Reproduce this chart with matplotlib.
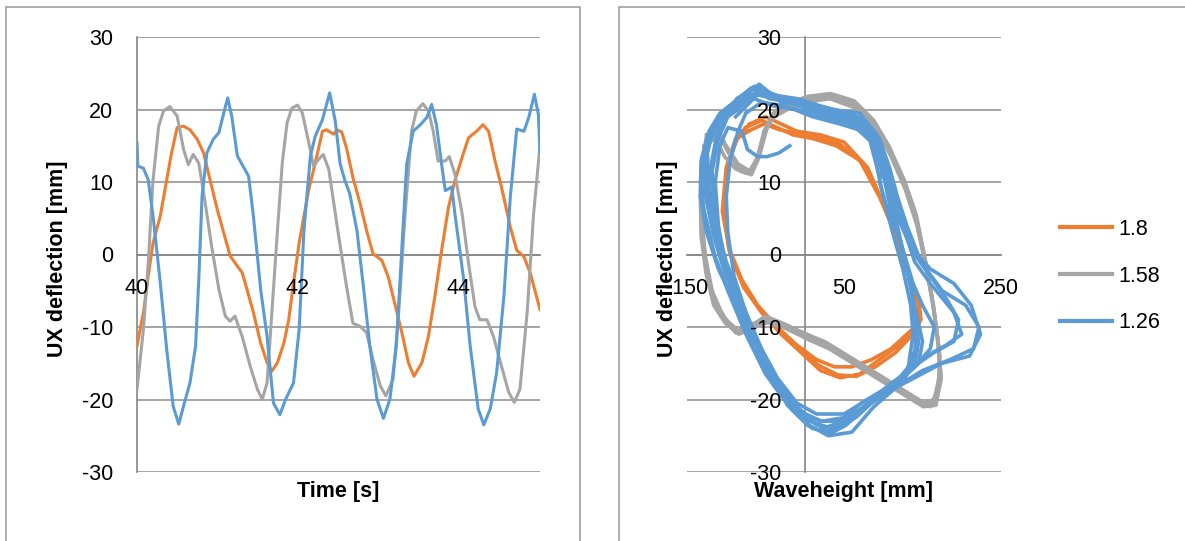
import matplotlib.pyplot as plt
from matplotlib.patches import Rectangle

plt.rcParams['font.family'] = ['Liberation Sans', 'DejaVu Sans']
plt.rcParams['axes.unicode_minus'] = False

# --- left: UX deflection time series ---
t_18 = [40.00, 40.08, 40.14, 40.20, 40.29, 40.37, 40.43, 40.50, 40.58, 40.66, 40.75, 40.83, 40.91,
        41.00, 41.08, 41.16, 41.25, 41.31, 41.37, 41.45, 41.54, 41.62, 41.68, 41.75, 41.83, 41.89,
        41.95, 42.02, 42.08, 42.14, 42.22, 42.31, 42.36, 42.45, 42.49, 42.55, 42.61, 42.69, 42.78,
        42.86, 42.94, 43.05, 43.13, 43.21, 43.30, 43.38, 43.45, 43.55, 43.63, 43.71, 43.80, 43.88,
        43.96, 44.05, 44.13, 44.23, 44.31, 44.38, 44.46, 44.54, 44.65, 44.73, 44.82, 44.90, 45.02]
ux_18 = [-12.6, -8.0, -3.0, 1.6, 5.3, 10.3, 14.0, 17.5, 17.7, 17.2, 15.9, 14.0, 10.3,
         6.2, 3.0, -0.2, -1.6, -2.5, -4.8, -8.0, -12.2, -14.9, -16.1, -14.9, -12.2, -9.0,
         -3.9, 1.6, 5.3, 9.0, 12.6, 17.0, 17.2, 16.6, 17.2, 16.9, 14.7, 10.6, 7.0,
         3.3, 0.1, -0.8, -3.1, -6.7, -10.8, -14.9, -16.8, -14.9, -11.3, -5.8, 1.0, 6.5,
         10.2, 13.4, 16.1, 17.0, 17.9, 17.0, 12.9, 9.3, 3.8, 0.6, -0.3, -2.6, -7.6]

t_158 = [40.00, 40.08, 40.14, 40.20, 40.27, 40.33, 40.41, 40.50, 40.58, 40.64, 40.70, 40.77, 40.85,
         40.93, 41.02, 41.10, 41.16, 41.22, 41.31, 41.41, 41.50, 41.56, 41.62, 41.68, 41.75, 41.81,
         41.87, 41.93, 42.00, 42.06, 42.14, 42.20, 42.26, 42.32, 42.39, 42.50, 42.61, 42.69, 42.78,
         42.86, 42.94, 43.03, 43.10, 43.19, 43.26, 43.34, 43.42, 43.48, 43.56, 43.63, 43.69, 43.75,
         43.84, 43.89, 43.96, 44.05, 44.13, 44.21, 44.27, 44.36, 44.44, 44.54, 44.63, 44.70, 44.77,
         44.86, 44.94, 45.02]
ux_158 = [-18.6, -10.3, -1.1, 10.3, 17.7, 19.8, 20.4, 19.1, 14.5, 12.4, 13.8, 12.6, 7.1,
          1.1, -4.8, -8.5, -9.2, -8.5, -11.3, -15.4, -18.6, -20.0, -17.7, -8.0, 3.4, 12.7,
          18.2, 20.2, 20.6, 19.5, 15.4, 12.2, 13.1, 13.8, 11.7, 3.4, -4.4, -9.5, -9.9,
          -10.8, -14.5, -18.1, -19.5, -17.2, -8.0, 5.6, 17.0, 19.8, 20.8, 19.8, 17.0, 12.9,
          12.9, 13.5, 11.1, 5.6, -1.2, -7.2, -9.0, -9.0, -11.3, -15.4, -19.0, -20.4, -18.6,
          -8.0, 5.6, 15.0]

t_126 = [40.00, 40.01, 40.08, 40.14, 40.20, 40.29, 40.37, 40.45, 40.52, 40.58, 40.66, 40.73, 40.77,
         40.81, 40.87, 40.95, 41.02, 41.08, 41.13, 41.18, 41.25, 41.33, 41.39, 41.45, 41.54, 41.62,
         41.70, 41.78, 41.85, 41.95, 42.02, 42.08, 42.16, 42.22, 42.31, 42.40, 42.47, 42.53, 42.59,
         42.65, 42.74, 42.82, 42.90, 42.99, 43.07, 43.15, 43.23, 43.30, 43.36, 43.44, 43.53, 43.61,
         43.67, 43.73, 43.80, 43.84, 43.92, 43.96, 44.07, 44.15, 44.25, 44.32, 44.40, 44.48, 44.57,
         44.65, 44.73, 44.82, 44.88, 44.95, 45.00, 45.02]
ux_126 = [15.4, 12.2, 11.9, 10.3, 5.3, -3.9, -13.1, -20.9, -23.4, -20.9, -17.7, -12.6, -3.4,
          8.0, 14.0, 15.9, 16.8, 19.5, 21.6, 19.1, 13.6, 12.0, 10.8, 5.3, -4.8, -11.3,
          -20.5, -22.1, -20.0, -17.7, -10.3, 3.4, 13.6, 16.3, 18.6, 22.3, 18.4, 12.5, 10.2,
          8.4, 3.3, -4.4, -12.6, -20.0, -22.6, -20.0, -12.6, 1.0, 12.5, 17.0, 17.9, 18.9,
          20.7, 17.9, 12.0, 8.8, 9.3, 5.6, -3.5, -12.6, -21.3, -23.5, -21.3, -16.3, -5.8,
          7.9, 17.3, 17.0, 18.9, 22.1, 19.3, 14.0]

# --- right: UX deflection vs waveheight (several recorded cycles each) ---
orbit_18 = [
    [(-75, 17.5), (-55, 18.5), (-35, 17.5), (-15, 16.5), (10, 16), (40, 15), (70, 13), (95, 8),
     (115, 3), (130, -2), (145, -6), (148, -9), (140, -10.5), (120, -12.5), (95, -14.5),
     (70, -16.5), (45, -17), (20, -16), (-5, -13.5), (-30, -11), (-55, -8), (-78, -4.5),
     (-95, 0), (-105, 6), (-100, 12), (-88, 16), (-75, 17.5)],
    [(-70, 18), (-50, 19), (-30, 18), (-10, 17), (20, 16.5), (50, 15.5), (80, 12), (100, 7),
     (118, 2), (133, -3), (146, -7), (145, -9.5), (130, -11), (110, -13), (85, -14.5),
     (60, -15.5), (38, -15.5), (15, -14.5), (-10, -12.5), (-35, -10), (-60, -7), (-80, -3.5),
     (-97, 1), (-103, 7), (-97, 13), (-84, 16.5), (-70, 18)],
    [(-72, 17), (-52, 18), (-32, 17.2), (-12, 16.8), (15, 16.2), (45, 15.2), (75, 12.5), (98, 7.5),
     (116, 2.5), (131, -2.5), (144, -6.5), (147, -9), (138, -11), (116, -13.5), (90, -15.5),
     (66, -16.8), (42, -16.6), (18, -15.3), (-8, -13), (-33, -10.5), (-58, -7.5), (-79, -4),
     (-96, 0.5), (-104, 6.5), (-98, 12.5), (-86, 16), (-72, 17)],
]

orbit_158 = [
    [(-125, 16.5), (-112, 17), (-100, 15), (-85, 12.5), (-70, 11.5), (-60, 13), (-52, 17),
     (-40, 19.5), (-20, 20.5), (0, 21.5), (30, 22), (60, 21), (85, 18.5), (105, 15), (125, 10.5),
     (140, 6), (152, 0), (162, -6), (170, -12), (172, -16.5), (165, -20), (150, -20.5),
     (120, -18.5), (90, -16.5), (60, -14.5), (30, -12.5), (5, -11.3), (-25, -9.8), (-48, -9),
     (-65, -9.5), (-85, -10.5), (-100, -9), (-115, -6.5), (-125, -2), (-130, 3), (-132, 8),
     (-130, 13), (-125, 16.5)],
    [(-122, 15.5), (-110, 16.5), (-97, 14), (-82, 11.5), (-68, 11), (-58, 13.5), (-48, 17.5),
     (-35, 20), (-15, 21), (5, 21.5), (35, 21.5), (65, 20.5), (90, 17.5), (110, 13.5), (128, 9),
     (143, 4), (155, -2), (165, -8), (172, -14), (170, -18.5), (160, -21), (145, -20),
     (115, -18), (85, -16), (55, -14), (25, -12), (0, -11), (-28, -9.5), (-50, -8.5),
     (-68, -9.8), (-88, -10.8), (-104, -8.5), (-118, -5), (-127, 0), (-131, 5), (-130, 11),
     (-122, 15.5)],
    [(-128, 15), (-114, 16), (-102, 13.5), (-88, 11.8), (-74, 11.2), (-62, 12.5), (-54, 16),
     (-42, 18.8), (-22, 20), (2, 21), (32, 21.5), (62, 20.3), (87, 18), (107, 14.5), (126, 10),
     (141, 5), (154, -1), (164, -7), (171, -13), (173, -17.5), (163, -20.5), (147, -20.2),
     (118, -18.2), (88, -16.2), (58, -14.2), (28, -12.2), (3, -11), (-26, -9.6), (-49, -8.7),
     (-66, -9.7), (-86, -10.7), (-102, -8.8), (-117, -6), (-127, -1), (-131, 4), (-131, 9),
     (-128, 15)],
    [(-124, 16), (-111, 17.5), (-99, 14.5), (-84, 12), (-71, 11.3), (-61, 13.3), (-50, 17.3),
     (-37, 19.8), (-17, 21), (3, 21.8), (33, 22.2), (63, 21.2), (88, 18.5), (108, 14.8), (127, 10.2),
     (142, 5.5), (153, -0.5), (163, -6.5), (170, -12.5), (174, -17), (167, -20.8), (151, -21),
     (121, -19), (91, -17), (61, -15), (31, -13), (6, -11.8), (-24, -10.2), (-47, -9.4),
     (-64, -10), (-84, -11), (-101, -9.5), (-116, -7), (-126, -2.5), (-132, 2.5), (-133, 8),
     (-131, 13), (-124, 16)],
]

orbit_126 = [
    [(-85, 20), (-62, 22.5), (-35, 21.5), (-5, 20.5), (30, 19.5), (65, 18.5), (88, 16.5),
     (100, 13), (95, 10), (105, 6.5), (118, 3), (128, -1), (137, -5), (142, -10), (140, -14.5),
     (128, -17), (100, -19.5), (68, -21.5), (45, -23.5), (25, -24), (0, -22.5), (-25, -19.5),
     (-48, -15), (-70, -10), (-92, -4.5), (-106, 1), (-115, 6.5), (-118, 11.5), (-110, 16),
     (-98, 19), (-85, 20)],
    [(-80, 21.5), (-58, 23.5), (-30, 21), (0, 20.8), (35, 20), (70, 19.5), (95, 16), (108, 12),
     (118, 8), (130, 4), (148, -1), (175, -5), (205, -7), (222, -10), (215, -13), (185, -14.5),
     (150, -16), (120, -18), (88, -21), (60, -24.5), (30, -25), (5, -23.5), (-22, -20.5),
     (-50, -16.5), (-75, -11), (-98, -5), (-115, 0), (-128, 6), (-133, 10), (-125, 15),
     (-105, 19), (-80, 21.5)],
    [(-75, 19.5), (-55, 21), (-25, 20.5), (10, 19), (45, 18), (75, 17), (95, 14), (110, 9),
     (125, 4), (140, -1), (160, -4), (190, -8), (200, -11), (180, -12.5), (155, -14), (135, -16),
     (110, -18.5), (80, -20), (50, -22), (15, -22), (-10, -20.5), (-35, -17), (-55, -13),
     (-75, -8), (-90, -3), (-98, 3), (-100, 8), (-95, 13), (-85, 17), (-75, 19.5)],
    [(-95, 20.5), (-70, 22), (-40, 22), (-10, 21.5), (20, 20.5), (55, 19.5), (80, 17), (92, 12),
     (100, 8), (112, 3), (125, -2), (135, -7), (138, -11), (132, -15.5), (110, -18.5),
     (80, -20.5), (55, -23), (35, -24.5), (10, -24), (-15, -21.5), (-40, -18), (-65, -13),
     (-88, -7), (-110, -2), (-125, 3), (-133, 8), (-132, 13), (-122, 17), (-108, 19.5),
     (-95, 20.5)],
    [(-90, 21), (-68, 23), (-45, 21.5), (-15, 21), (15, 20), (50, 19), (78, 17.5), (96, 14),
     (104, 10), (115, 5), (126, 0), (135, -4), (140, -8), (145, -12), (140, -15.5), (120, -17.5),
     (95, -19.5), (65, -22.5), (40, -24), (15, -23.5), (-10, -21), (-35, -17.5), (-60, -12),
     (-82, -6), (-100, -1), (-112, 4), (-122, 9), (-124, 14), (-115, 18), (-102, 20), (-90, 21)],
    [(-82, 20.5), (-60, 22), (-30, 21.3), (0, 20.2), (32, 19.2), (62, 18.2), (86, 16), (98, 12),
     (106, 8), (116, 4), (127, 0), (138, -4), (150, -7), (165, -10), (160, -13), (140, -15.5),
     (112, -18), (82, -20.5), (55, -22.8), (28, -23.8), (2, -22.8), (-20, -20.5), (-45, -16),
     (-68, -11), (-88, -6), (-104, -1), (-118, 4), (-128, 9), (-126, 14), (-112, 18), (-95, 20),
     (-82, 20.5)],
    [(-92, 20), (-72, 21.8), (-48, 22.3), (-20, 21.2), (10, 20.5), (42, 19.5), (72, 18.3),
     (92, 15), (102, 11), (110, 6), (122, 1.5), (132, -3), (142, -8), (150, -12), (145, -15),
     (125, -16.8), (98, -18.8), (72, -20.5), (50, -22.5), (22, -23), (-5, -21.8), (-30, -18.5),
     (-55, -14), (-77, -9), (-96, -4), (-108, 1.5), (-116, 7), (-120, 12), (-112, 16.5),
     (-100, 19), (-92, 20)],
    [(-78, 21), (-56, 22.8), (-28, 21.6), (5, 20.6), (38, 19.8), (68, 19), (90, 16.8), (104, 13),
     (112, 9), (124, 4.5), (140, 0), (160, -3), (180, -6), (196, -9), (190, -12), (165, -13.5),
     (138, -15.5), (110, -17.8), (85, -20), (58, -23), (32, -24.2), (8, -23), (-18, -20),
     (-42, -16.5), (-64, -12), (-84, -7), (-102, -2.5), (-116, 2.5), (-126, 8), (-128, 13),
     (-118, 17.5), (-98, 20), (-78, 21)],
    [(-86, 21.5), (-64, 23.2), (-38, 22), (-8, 21), (26, 20.2), (58, 19.4), (84, 17.6),
     (98, 14.5), (104, 11), (112, 7), (121, 2.5), (130, -2), (138, -6), (143, -9), (141, -13),
     (130, -16), (108, -18.8), (78, -21), (52, -23.6), (30, -24.8), (4, -23.6), (-22, -20.8),
     (-46, -16.2), (-66, -11.5), (-86, -6), (-102, -1.5), (-114, 3), (-124, 8), (-129, 12),
     (-120, 16), (-102, 19.5), (-86, 21.5)],
    [(-88, 19), (-65, 21.5), (-40, 20.5), (-10, 20), (25, 19), (60, 18), (85, 15.5), (100, 11),
     (115, 6), (135, 1), (160, -2), (190, -4), (212, -7), (224, -11), (210, -14), (175, -15),
     (140, -17), (105, -19), (75, -21), (50, -23), (20, -23), (-8, -21.5), (-32, -18),
     (-58, -13.5), (-82, -7.5), (-100, -2), (-110, 4), (-114, 10), (-108, 15), (-98, 17.5),
     (-80, 17), (-73, 14.5), (-60, 13.5), (-48, 13.5), (-33, 14), (-19, 15)],
]

labels = ['1.8', '1.58', '1.26']
colors = ['#ED7D31', '#A5A5A5', '#5B9BD5']
yticks = [-30, -20, -10, 0, 10, 20, 30]
grid_c = '#8c8c8c'
fs = 15.5

W, H = 1185, 541
fig = plt.figure(figsize=(W / 100, H / 100), dpi=100)

# chart frames
fig.patches.append(Rectangle((6 / W, -0.01), (580 - 6) / W, (H - 7) / H + 0.01,
                             transform=fig.transFigure, fill=False, ec='#a0a0a0', lw=1.2))
fig.patches.append(Rectangle((619 / W, -0.01), 0.5, (H - 7) / H + 0.01,
                             transform=fig.transFigure, fill=False, ec='#a0a0a0', lw=1.2))


def style(ax):
    ax.set_ylim(-30, 30)
    ax.set_yticks(yticks)
    for v in yticks:
        ax.axhline(v, color=grid_c, lw=1.1, zorder=0.5)
    ax.set_axisbelow(False)
    for s in ['top', 'right']:
        ax.spines[s].set_visible(False)
    for s in ['left', 'bottom']:
        ax.spines[s].set_color('#868686')
        ax.spines[s].set_linewidth(1.2)
        ax.spines[s].set_zorder(0.6)
    ax.spines['bottom'].set_position(('data', 0))
    ax.tick_params(length=0, labelsize=fs, colors='black')
    ax.tick_params(axis='y', pad=17)
    ax.tick_params(axis='x', pad=17)
    ax.patch.set_visible(False)


ax1 = fig.add_axes([137 / W, 69 / H, 403 / W, 435 / H])
style(ax1)
ax1.set_xlim(40, 45.02)
ax1.set_xticks([40, 42, 44])
for t, u, c in zip([t_18, t_158, t_126], [ux_18, ux_158, ux_126], colors):
    ax1.plot(t, u, color=c, lw=2.2, solid_joinstyle='round', zorder=2)
ax1.set_xlabel('Time [s]', fontsize=fs, fontweight='bold')
ax1.set_ylabel('UX deflection [mm]', fontsize=fs, fontweight='bold')
ax1.xaxis.set_label_coords(0.5, -0.02)
ax1.yaxis.set_label_coords(-0.171, 0.49)

ax2 = fig.add_axes([687 / W, 69 / H, 314 / W, 435 / H])
style(ax2)
ax2.set_xlim(-150, 250)
ax2.set_xticks([-150, 50, 250])
ax2.spines['left'].set_position(('data', 0))
for orbits, c, lab in zip([orbit_18, orbit_158, orbit_126], colors, labels):
    for i, loop in enumerate(orbits):
        xs = [p[0] for p in loop]
        ys = [p[1] for p in loop]
        ax2.plot(xs, ys, color=c, lw=2.6, solid_joinstyle='round', zorder=2,
                 label=lab if i == 0 else None)
ax2.set_xlabel('Waveheight [mm]', fontsize=fs, fontweight='bold')
ax2.set_ylabel('UX deflection [mm]', fontsize=fs, fontweight='bold')
ax2.xaxis.set_label_coords(0.5, -0.02)
ax2.yaxis.set_label_coords(-0.029, 0.49)

leg = ax2.legend(loc='center left', bbox_to_anchor=(1060 / W, (H - 276) / H),
                 bbox_transform=fig.transFigure, frameon=False, fontsize=fs,
                 handlelength=2.4, handletextpad=0.3, labelspacing=1.2,
                 borderpad=0, borderaxespad=0)
for h in leg.get_lines():
    h.set_linewidth(3)

fig.savefig('out.png', dpi=100)
